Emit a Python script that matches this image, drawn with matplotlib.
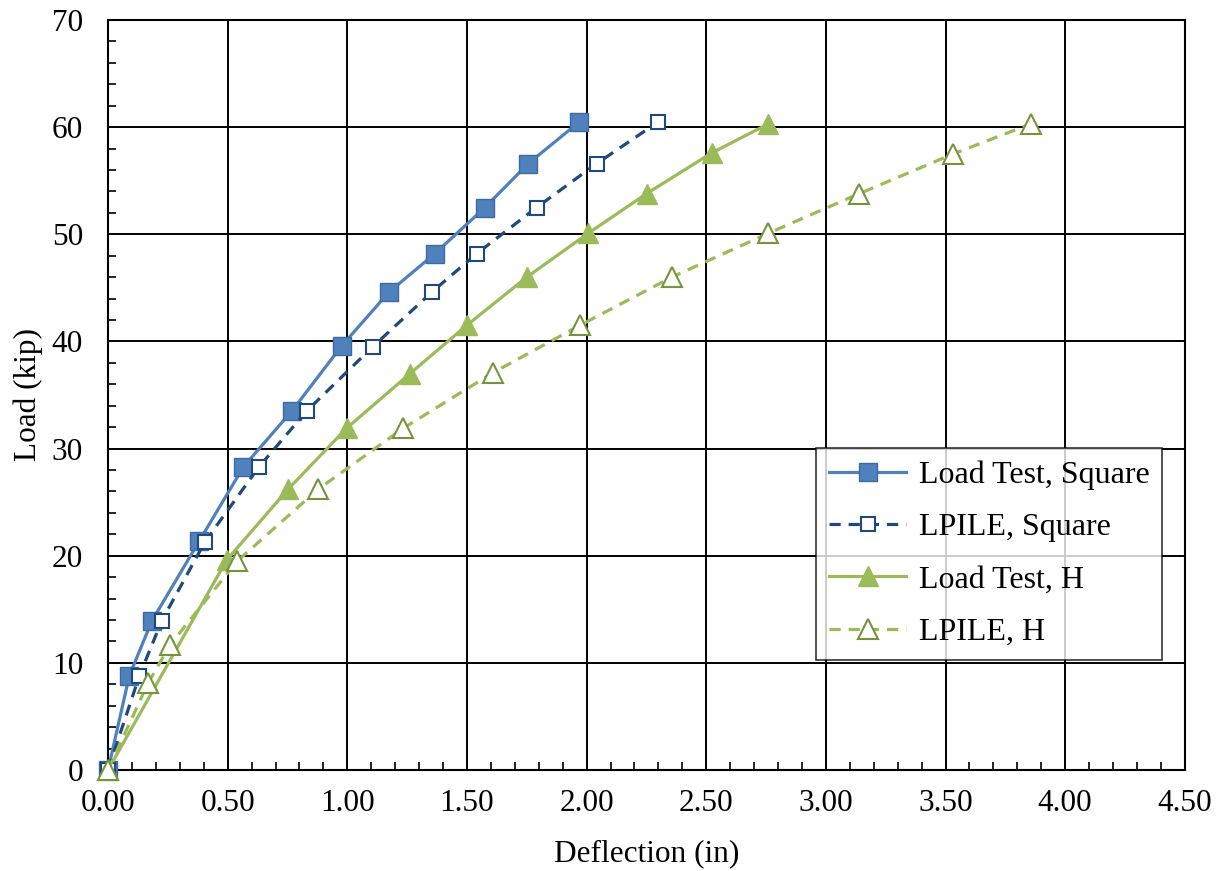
import matplotlib
matplotlib.use("Agg")
import matplotlib.pyplot as plt
from matplotlib.ticker import MultipleLocator, FormatStrFormatter

plt.rcParams['font.family'] = ['Liberation Serif', 'DejaVu Serif']

# deflection (in) and load (kip)
lt_sq_x = [0.0, 0.089, 0.183, 0.382, 0.566, 0.768, 0.977, 1.174, 1.366, 1.575, 1.756, 1.970]
lt_sq_y = [0.0, 8.8, 13.9, 21.4, 28.3, 33.5, 39.6, 44.6, 48.2, 52.5, 56.6, 60.5]

lp_sq_x = [0.0, 0.131, 0.224, 0.405, 0.631, 0.830, 1.106, 1.353, 1.541, 1.791, 2.042, 2.300]
lp_sq_y = [0.0, 8.8, 13.9, 21.3, 28.3, 33.5, 39.5, 44.6, 48.2, 52.5, 56.6, 60.5]

lt_h_x = [0.0, 0.496, 0.752, 0.997, 1.262, 1.499, 1.750, 2.007, 2.251, 2.523, 2.759]
lt_h_y = [0.0, 19.6, 26.2, 31.9, 37.0, 41.5, 46.0, 50.1, 53.8, 57.6, 60.3]

lp_h_x = [0.0, 0.167, 0.26, 0.540, 0.878, 1.234, 1.610, 1.972, 2.356, 2.760, 3.140, 3.532, 3.856]
lp_h_y = [0.0, 8.1, 11.7, 19.5, 26.2, 31.9, 37.1, 41.5, 46.0, 50.1, 53.8, 57.5, 60.3]

blue = "#4F81BD"
dblue = "#1F497D"
green = "#9BBB59"
dgreen = "#77933C"

fig = plt.figure(figsize=(12.25, 8.71), dpi=100)
ax = fig.add_axes([0.0882, 0.116, 0.879, 0.861])

ax.plot(lt_sq_x, lt_sq_y, color=blue, lw=2.3, marker="s", ms=13,
        mfc=blue, mec="#3E6AA0", mew=1, label="Load Test, Square", zorder=4, clip_on=False)
ax.plot(lp_sq_x, lp_sq_y, color=dblue, lw=2.3, dashes=(3.5, 2.5), marker="s", ms=10,
        mfc="white", mec=dblue, mew=1.5, label="LPILE, Square", zorder=5, clip_on=False)
ax.plot(lt_h_x, lt_h_y, color=green, lw=2.3, marker="^", ms=14,
        mfc=green, mec=green, mew=1, label="Load Test, H", zorder=4, clip_on=False)
ax.plot(lp_h_x, lp_h_y, color=green, lw=2.3, dashes=(3.5, 2.5), marker="^", ms=14,
        mfc="white", mec=dgreen, mew=1.5, label="LPILE, H", zorder=5, clip_on=False)

ax.set_xlim(0, 4.5)
ax.set_ylim(0, 70)
ax.xaxis.set_major_locator(MultipleLocator(0.5))
ax.xaxis.set_minor_locator(MultipleLocator(0.1))
ax.yaxis.set_major_locator(MultipleLocator(10))
ax.yaxis.set_minor_locator(MultipleLocator(2))
ax.xaxis.set_major_formatter(FormatStrFormatter("%.2f"))

ax.grid(True, which="major", color="black", lw=1.4)
ax.set_axisbelow(True)
ax.tick_params(which="both", direction="in", top=False, right=False,
               labelsize=22.5, colors="black")
ax.tick_params(axis="x", which="major", length=0, pad=14)
ax.tick_params(axis="y", which="major", length=0, pad=18)
ax.tick_params(which="minor", length=6, width=1.2)
for s in ax.spines.values():
    s.set_color("black")
    s.set_linewidth(1.5)

ax.set_xlabel("Deflection (in)", fontsize=22.5, labelpad=15)
ax.set_ylabel("Load (kip)", fontsize=22.5, labelpad=6)

leg = ax.legend(loc="lower right", bbox_to_anchor=(0.979, 0.147), fontsize=23,
                frameon=True, fancybox=False, edgecolor="black",
                borderpad=0.4, labelspacing=0.72, handlelength=2.4,
                handletextpad=0.4, borderaxespad=0)
leg.get_frame().set_linewidth(1.2)
leg.set_zorder(10)

fig.savefig("out.png", dpi=100)
